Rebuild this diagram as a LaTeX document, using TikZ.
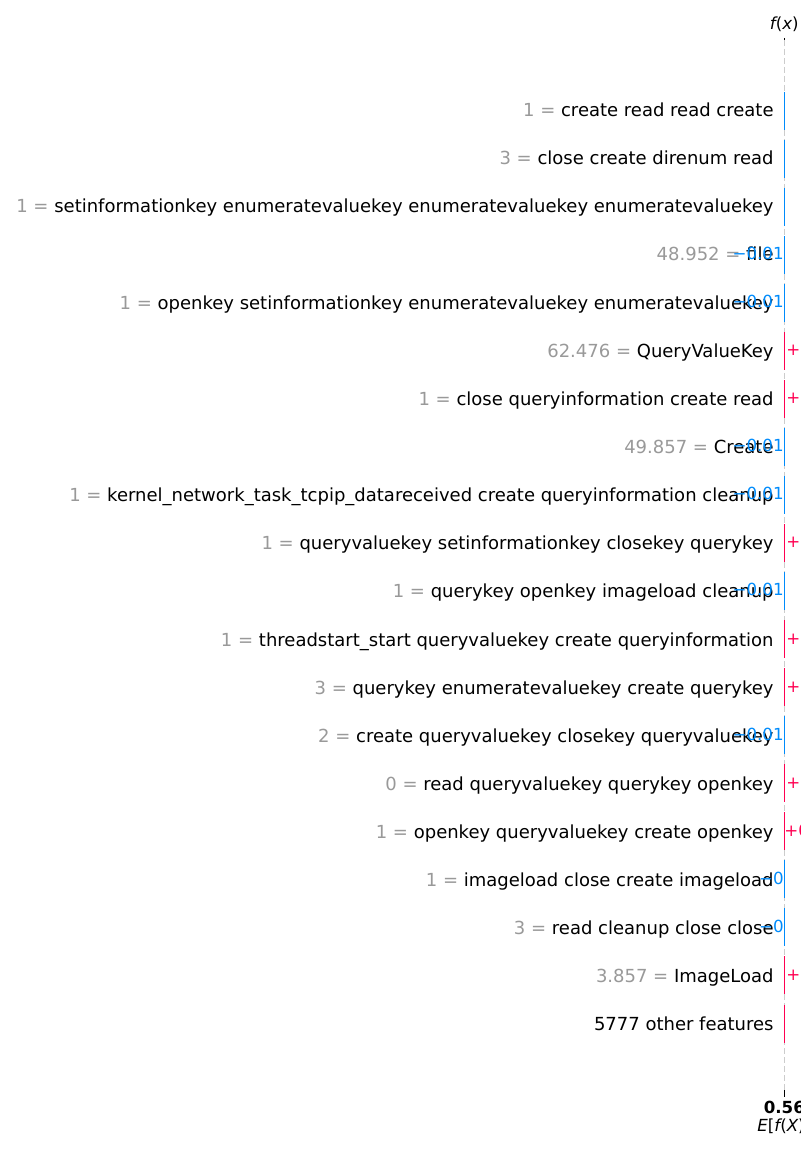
\documentclass[tikz,border=0pt]{standalone}
\usepackage{fontspec}
\setmainfont{DejaVu Sans}
\usepackage{tikz}

\definecolor{shapblue}{HTML}{008BFB}
\definecolor{shappink}{HTML}{FF0051}
\definecolor{featgray}{HTML}{999999}
\definecolor{zerogray}{HTML}{CCCCCC}

\tikzset{
	featlabel/.style={anchor=base east,inner sep=0pt,font=\fontsize{9}{10}\selectfont},
	valneg/.style={anchor=base east,inner sep=0pt,text=shapblue,font=\fontsize{8.33}{9}\selectfont},
	valpos/.style={anchor=base west,inner sep=0pt,text=shappink,font=\fontsize{8.33}{9}\selectfont},
	barneg/.style={draw=shapblue,line width=0.8pt},
	barpos/.style={draw=shappink,line width=0.8pt},
	axislabel/.style={inner sep=0pt,font=\fontsize{8.33}{9}\selectfont}
}
\newcommand{\fv}[1]{\textcolor{featgray}{#1 =} }

\begin{document}
\begin{tikzpicture}[x=0.5pt,y=-0.5pt]
	\useasboundingbox (0,0) rectangle (800,1150);
	\clip (0,0) rectangle (800,1150);
	
	% zero line with ticks
	\coordinate (ztop) at (784.3,40);
	\coordinate (zbot) at (784.3,1090);
	\draw[zerogray,dashed,dash pattern=on 3pt off 1.5pt,line width=0.4pt] (ztop) -- (zbot);
	\draw[black,line width=0.6pt] (784.3,38) -- (ztop);
	\draw[black,line width=0.6pt] (zbot) -- (784.3,1097);
	\node[axislabel] (fx) at (784.3,24) {\itshape f\upshape(\itshape x\upshape)};
	\node[axislabel,font=\fontsize{8.33}{9}\selectfont\bfseries] (ev) at (784.3,1107) {0.56};
	\node[axislabel] (efx) at (784.3,1126) {\itshape E\upshape[\itshape f\upshape(\itshape X\upshape)]};
	
	% bars
	\draw[barneg] (784.3,92) -- (784.3,130);
	\draw[barneg] (784.3,140) -- (784.3,178);
	\draw[barneg] (784.3,188) -- (784.3,226);
	\draw[barneg] (784.3,236) -- (784.3,274);
	\draw[barneg] (784.3,284) -- (784.3,322);
	\draw[barpos] (784.3,332) -- (784.3,370);
	\draw[barpos] (784.3,380) -- (784.3,418);
	\draw[barneg] (784.3,428) -- (784.3,466);
	\draw[barneg] (784.3,476) -- (784.3,514);
	\draw[barpos] (784.3,524) -- (784.3,562);
	\draw[barneg] (784.3,572) -- (784.3,610);
	\draw[barpos] (784.3,620) -- (784.3,658);
	\draw[barpos] (784.3,668) -- (784.3,706);
	\draw[barneg] (784.3,716) -- (784.3,754);
	\draw[barpos] (784.3,764) -- (784.3,802);
	\draw[barpos] (784.3,812) -- (784.3,850);
	\draw[barneg] (784.3,860) -- (784.3,898);
	\draw[barneg] (784.3,908) -- (784.3,946);
	\draw[barpos] (784.3,956) -- (784.3,994);
	\draw[barpos] (784.3,1005) -- (784.3,1043);
	
	% feature labels
	\node[featlabel] (f1) at (774,117) {\fv{1}create read read create};
	\node[featlabel] (f2) at (774,165) {\fv{3}close create direnum read};
	\node[featlabel] (f3) at (774,213) {\fv{1}setinformationkey enumeratevaluekey enumeratevaluekey enumeratevaluekey};
	\node[featlabel] (f4) at (774,261) {\fv{48.952}file};
	\node[featlabel] (f5) at (774,309) {\fv{1}openkey setinformationkey enumeratevaluekey enumeratevaluekey};
	\node[featlabel] (f6) at (774,357) {\fv{62.476}QueryValueKey};
	\node[featlabel] (f7) at (774,405) {\fv{1}close queryinformation create read};
	\node[featlabel] (f8) at (774,453) {\fv{49.857}Create};
	\node[featlabel] (f9) at (774,501) {\fv{1}kernel\_network\_task\_tcpip\_datareceived create queryinformation cleanup};
	\node[featlabel] (f10) at (774,549) {\fv{1}queryvaluekey setinformationkey closekey querykey};
	\node[featlabel] (f11) at (774,597) {\fv{1}querykey openkey imageload cleanup};
	\node[featlabel] (f12) at (774,646) {\fv{1}threadstart\_start queryvaluekey create queryinformation};
	\node[featlabel] (f13) at (774,694) {\fv{3}querykey enumeratevaluekey create querykey};
	\node[featlabel] (f14) at (774,742) {\fv{2}create queryvaluekey closekey queryvaluekey};
	\node[featlabel] (f15) at (774,790) {\fv{0}read queryvaluekey querykey openkey};
	\node[featlabel] (f16) at (774,838) {\fv{1}openkey queryvaluekey create openkey};
	\node[featlabel] (f17) at (774,886) {\fv{1}imageload close create imageload};
	\node[featlabel] (f18) at (774,934) {\fv{3}read cleanup close close};
	\node[featlabel] (f19) at (774,982) {\fv{3.857}ImageLoad};
	\node[featlabel] (f20) at (774,1030) {5777 other features};
	
	% value labels
	\node[valneg] (v4) at (784,259) {−0.01};
	\node[valneg] (v5) at (784,307) {−0.01};
	\node[valpos] (v6) at (786,355) {+0.01};
	\node[valpos] (v7) at (786,403) {+0.01};
	\node[valneg] (v8) at (784,451) {−0.01};
	\node[valneg] (v9) at (784,499) {−0.01};
	\node[valpos] (v10) at (786,547) {+0.01};
	\node[valneg] (v11) at (784,595) {−0.01};
	\node[valpos] (v12) at (786,644) {+0.01};
	\node[valpos] (v13) at (786,692) {+0.01};
	\node[valneg] (v14) at (784,740) {−0.01};
	\node[valpos] (v15) at (786,788) {+0.01};
	\node[valpos] (v16) at (784,836) {+0};
	\node[valneg] (v17) at (784,884) {−0};
	\node[valneg] (v18) at (784,932) {−0};
	\node[valpos] (v19) at (786,980) {+0.01};
	
\end{tikzpicture}
\end{document}
